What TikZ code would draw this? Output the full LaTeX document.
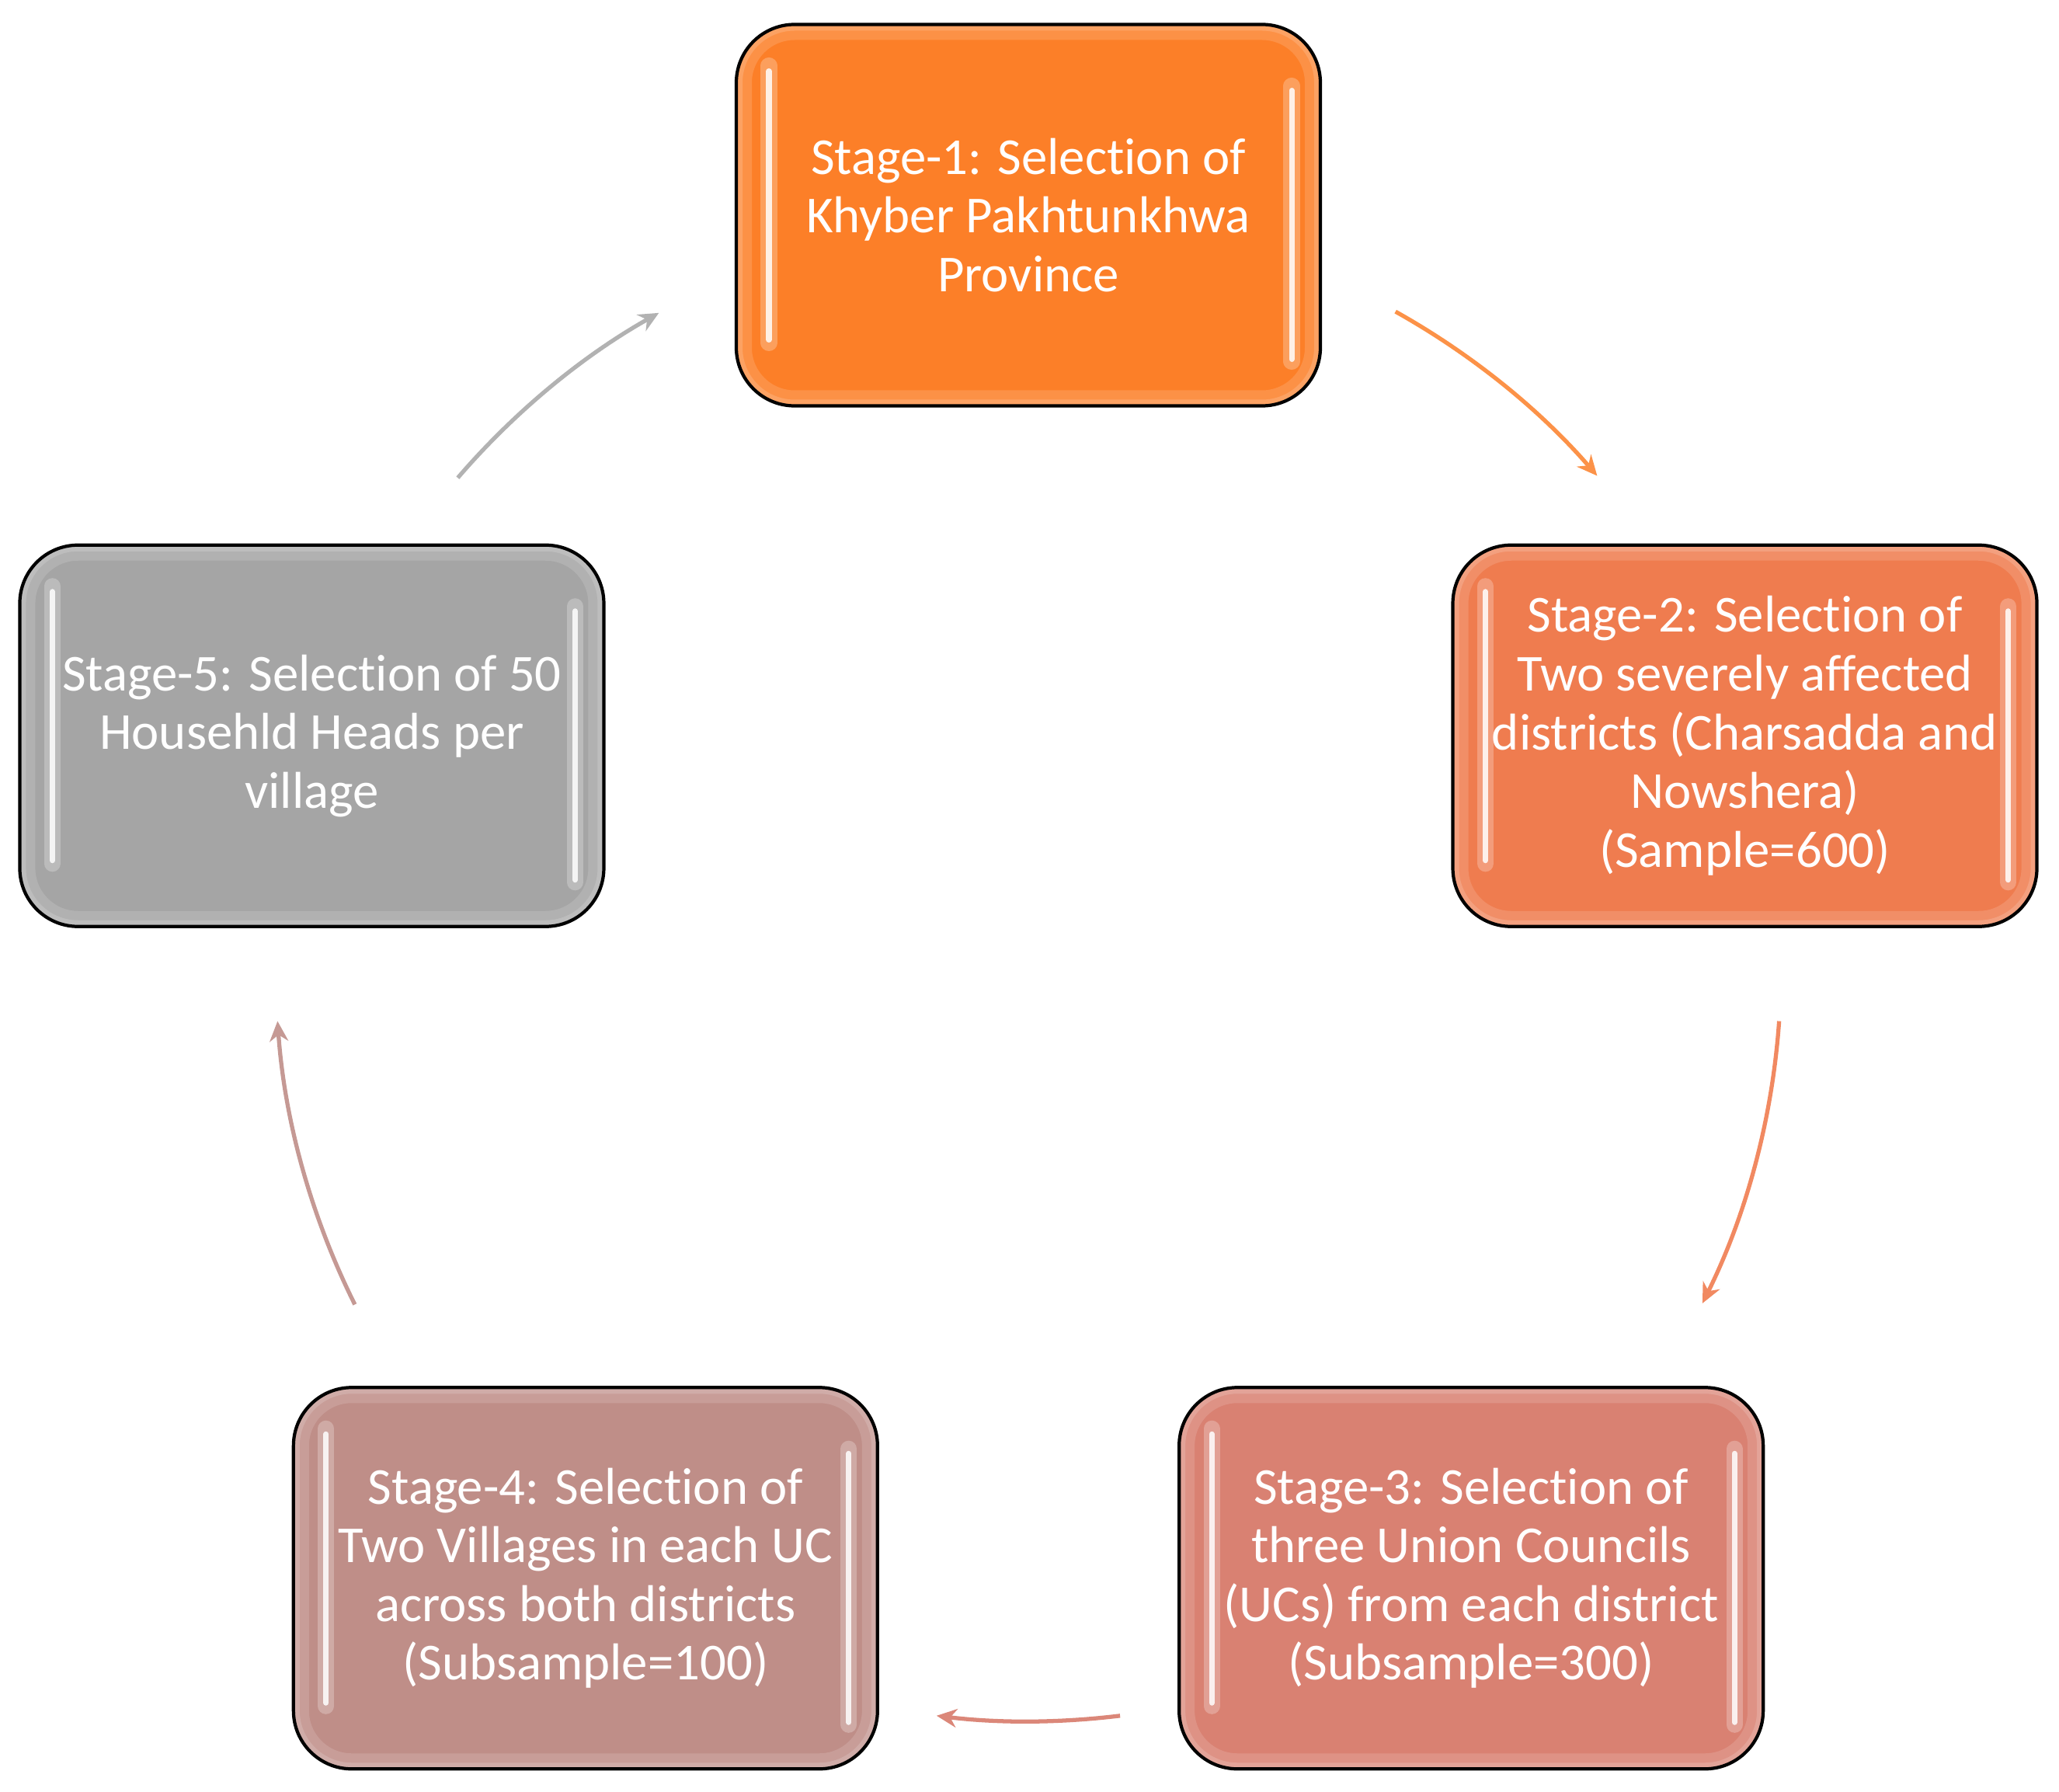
\documentclass[tikz,border=0pt]{standalone}
\usepackage{fontspec}
\setmainfont{Carlito}[RawFeature={-liga;-clig;-calt}]
\usetikzlibrary{arrows.meta, calc}

\definecolor{stageone}{HTML}{FC7F28}
\definecolor{stagetwo}{HTML}{EF7C4F}
\definecolor{stagethree}{HTML}{D98172}
\definecolor{stagefour}{HTML}{BF8E88}
\definecolor{stagefive}{HTML}{A5A5A5}

\begin{document}
\begin{tikzpicture}[
  stage/.style={rectangle, draw=black, line width=1.2pt, rounded corners=0.75cm,
    minimum width=7.52cm, minimum height=4.91cm, inner sep=0pt, align=center,
    text=white, font=\fontsize{19}{21.5}\selectfont,
    path picture={
      \draw[white, opacity=.14, line width=0.40cm, rounded corners=0.75cm]
        (path picture bounding box.south west) rectangle (path picture bounding box.north east);
      \draw[white, opacity=.16, line width=0.16cm, rounded corners=0.75cm]
        (path picture bounding box.south west) rectangle (path picture bounding box.north east);
      \draw[white, opacity=.25, line width=6pt, line cap=round]
        ($(path picture bounding box.north west)+(0.42,-0.53)$) -- ($(path picture bounding box.south west)+(0.42,0.81)$);
      \draw[white, opacity=.85, line width=2pt, line cap=round]
        ($(path picture bounding box.north west)+(0.42,-0.6)$) -- ($(path picture bounding box.south west)+(0.42,0.85)$);
      \draw[white, opacity=.25, line width=6pt, line cap=round]
        ($(path picture bounding box.north east)+(-0.37,-0.79)$) -- ($(path picture bounding box.south east)+(-0.37,0.57)$);
      \draw[white, opacity=.85, line width=2pt, line cap=round]
        ($(path picture bounding box.north east)+(-0.37,-0.85)$) -- ($(path picture bounding box.south east)+(-0.37,0.6)$);
    }},
  sone/.style={stage, fill=stageone},
  stwo/.style={stage, fill=stagetwo},
  sthree/.style={stage, fill=stagethree},
  sfour/.style={stage, fill=stagefour},
  sfive/.style={stage, fill=stagefive},
  arrow/.style={-{Stealth[length=0.26cm, width=0.24cm]}, line width=1.5pt}
]
\useasboundingbox (-13.24,-10.59) rectangle (13.27,12.47);

% Stages
\node[sone] (s1) at (90:9.7) {Stage-1: Selection of\\Khyber Pakhtunkhwa\\Province};
\node[stwo] (s2) at (18:9.7) {Stage-2: Selection of\\Two severely affected\\districts (Charsadda and\\Nowshera)\\(Sample=600)};
\node[sthree] (s3) at (-54:9.7) {Stage-3: Selection of\\three Union Councils\\(UCs) from each district\\(Subsample=300)};
\node[sfour] (s4) at (-126:9.7) {Stage-4: Selection of\\Two Villages in each UC\\across both districts\\(Subsample=100)};
\node[sfive] (s5) at (162:9.7) {Stage-5: Selection of 50\\Househld Heads per\\village};

% Arrow starts
\coordinate (a12) at (60.8:9.69);
\coordinate (a23) at (-4.0:9.69);
\coordinate (a34) at (-83.0:9.69);
\coordinate (a45) at (-153.5:9.69);
\coordinate (a51) at (139.3:9.69);

% Arrows
\draw[arrow, color=stageone!85!white] (a12) arc[start angle=60.8, end angle=40.9, radius=9.69];
\draw[arrow, color=stagetwo!90!white] (a23) arc[start angle=-4.0, end angle=-26.4, radius=9.69];
\draw[arrow, color=stagethree!95!white] (a34) arc[start angle=-83.0, end angle=-97.0, radius=9.69];
\draw[arrow, color=stagefour!90!white] (a45) arc[start angle=-153.5, end angle=-176.0, radius=9.69];
\draw[arrow, color=stagefive!85!white] (a51) arc[start angle=139.3, end angle=119.4, radius=9.69];

\end{tikzpicture}
\end{document}
